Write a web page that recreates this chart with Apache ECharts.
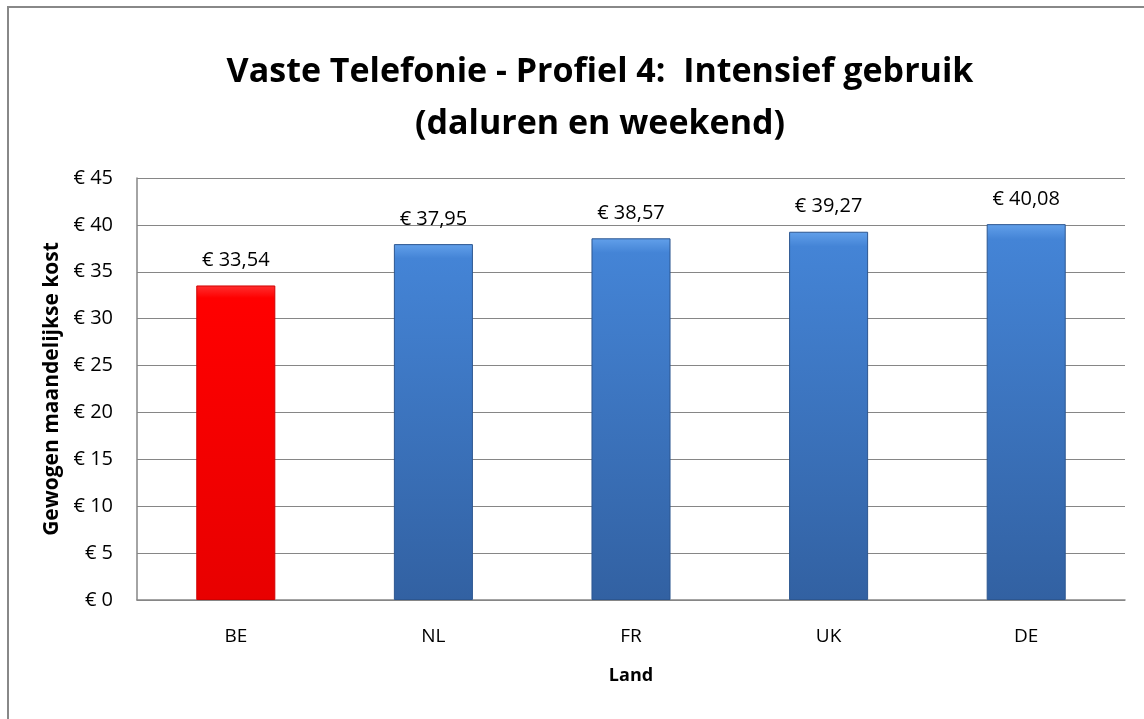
<!DOCTYPE html>
<html>
<head>
<meta charset="utf-8">
<title>Vaste Telefonie - Profiel 4</title>
<script src="https://cdn.jsdelivr.net/npm/echarts@6/dist/echarts.min.js"></script>
<style>
  html, body { margin: 0; padding: 0; background: #fff; }
  #chart { width: 1144px; height: 719px; }
</style>
</head>
<body>
<div id="chart"></div>
<script>
// data
var landen = ['BE', 'NL', 'FR', 'UK', 'DE'];
var kosten = [33.54, 37.95, 38.57, 39.27, 40.08];
var yTicks = [0, 5, 10, 15, 20, 25, 30, 35, 40, 45];

var fontFam = '"Open Sans", "Noto Sans", sans-serif';

function barColor(land) {
  // BE is red, the rest blue
  if (land == 'BE') {
    return new echarts.graphic.LinearGradient(0, 0, 0, 1, [
      { offset: 0, color: '#ff3030' },
      { offset: 0.04, color: '#ff0000' },
      { offset: 1, color: '#e80000' }
    ]);
  }
  return new echarts.graphic.LinearGradient(0, 0, 0, 1, [
    { offset: 0, color: '#62a0ea' },
    { offset: 0.04, color: '#4484d6' },
    { offset: 1, color: '#3261a2' }
  ]);
}

var barData = [];
for (var i = 0; i < landen.length; i++) {
  barData.push({
    value: kosten[i],
    itemStyle: {
      color: barColor(landen[i]),
      borderColor: landen[i] == 'BE' ? '#d00000' : '#2c5690',
      borderWidth: 1
    }
  });
}

var myChart = echarts.init(document.getElementById('chart'));
var option = {
  animation: false,
  backgroundColor: '#fff',
  title: {
    text: 'Vaste Telefonie - Profiel 4:  Intensief gebruik\n(daluren en weekend)',
    left: 595,
    textAlign: 'center',
    top: 41,
    textStyle: {
      fontFamily: fontFam,
      fontWeight: 'bold',
      fontSize: 34,
      lineHeight: 52,
      color: '#000'
    }
  },
  graphic: [{
    type: 'rect',
    shape: { x: 8, y: 7, width: 1200, height: 800 },
    style: { fill: 'none', stroke: '#888888', lineWidth: 2 },
    silent: true
  }],
  grid: {
    left: 137,
    right: 19,
    top: 178,
    bottom: 119
  },
  xAxis: {
    type: 'category',
    data: landen,
    name: 'Land',
    nameLocation: 'middle',
    nameGap: 67,
    nameTextStyle: {
      fontFamily: fontFam,
      fontWeight: 'bold',
      fontSize: 18,
      color: '#000'
    },
    axisLine: { lineStyle: { color: '#868686', width: 1.5 } },
    axisTick: { show: false },
    axisLabel: {
      margin: 27,
      fontFamily: fontFam,
      fontSize: 19,
      color: '#000'
    }
  },
  yAxis: {
    type: 'value',
    min: 0,
    max: yTicks[yTicks.length - 1],
    interval: 5,
    name: 'Gewogen maandelijkse kost',
    nameLocation: 'middle',
    nameGap: 69,
    nameTextStyle: {
      fontFamily: fontFam,
      fontWeight: 'bold',
      fontSize: 21,
      color: '#000'
    },
    axisLine: { show: true, lineStyle: { color: '#868686', width: 1.5 } },
    axisTick: { show: false },
    splitLine: { lineStyle: { color: '#868686', width: 1 } },
    axisLabel: {
      margin: 24,
      fontFamily: fontFam,
      fontSize: 20,
      color: '#000',
      formatter: function (v) { return '€ ' + v; }
    }
  },
  series: [{
    type: 'bar',
    data: barData,
    barWidth: '40%',
    label: {
      show: true,
      position: 'top',
      distance: 15,
      fontFamily: fontFam,
      fontSize: 20,
      color: '#000',
      formatter: function (p) { return '€ ' + p.value.toFixed(2).replace('.', ','); }
    }
  }]
};
myChart.setOption(option);
</script>
</body>
</html>
